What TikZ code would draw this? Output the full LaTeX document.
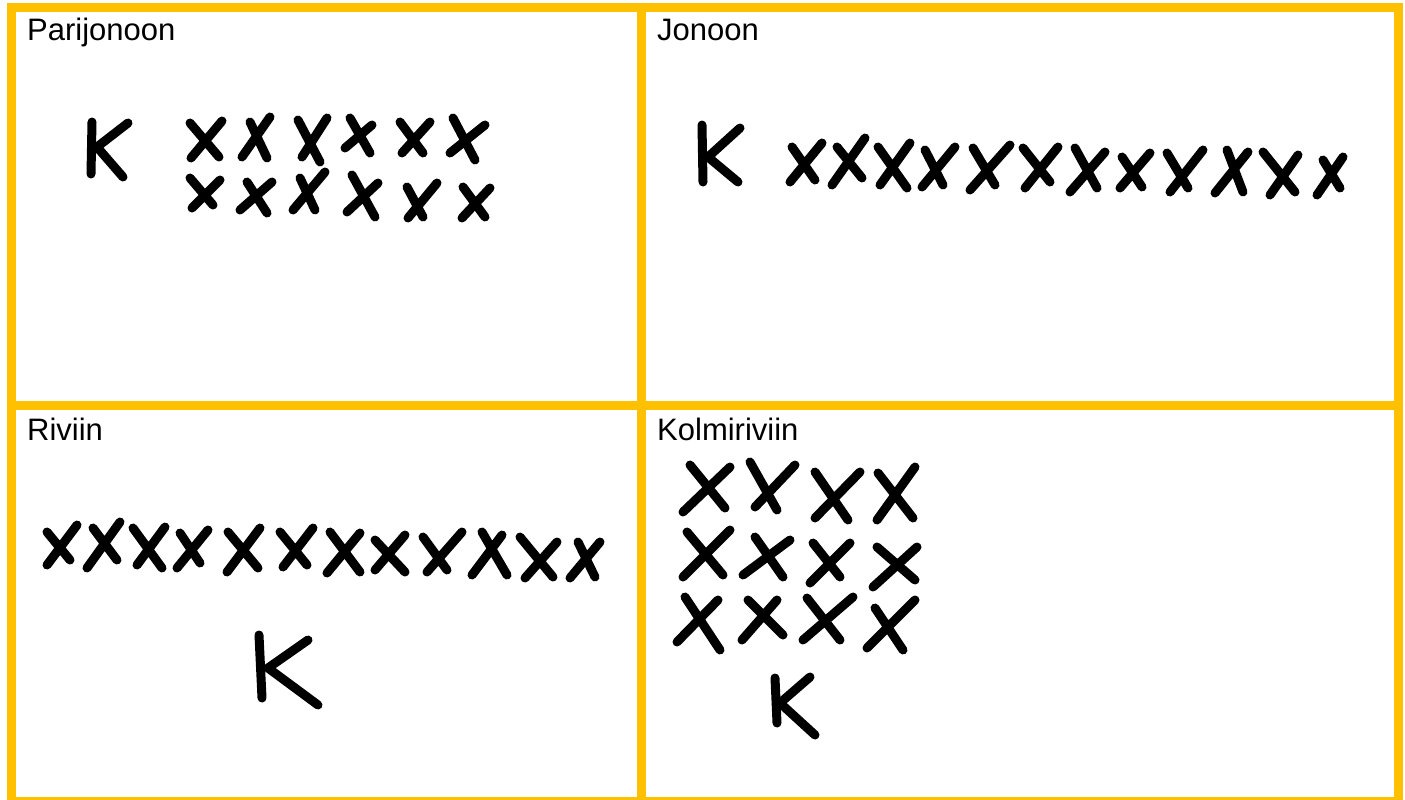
\documentclass[tikz,border=0pt]{standalone}
\usepackage{fontspec}
\setmainfont{Liberation Sans}
\definecolor{amber}{HTML}{FFC000}
\begin{document}
\begin{tikzpicture}[x=1pt,y=-1pt,
  frame/.style={draw=amber,line width=9pt},
  pen/.style={draw=black,line width=9pt,line cap=round,line join=round},
  lbl/.style={anchor=base west,inner sep=0pt,font=\fontsize{31}{36}\selectfont}]
\useasboundingbox (0,0) rectangle (1405,800);
\fill[white] (0,0) rectangle (1405,800);
% frames
\draw[frame] (11.5,7.5) rectangle (1398.5,801.5);
\draw[frame] (641,7.5) -- (641,801.5);
\draw[frame] (11.5,405) -- (1398.5,405);
% labels
\node[lbl] (t1) at (27,41) {Parijonoon};
\node[lbl] (t2) at (657,41) {Jonoon};
\node[lbl] (t3) at (27,440) {Riviin};
\node[lbl] (t4) at (657,440) {Kolmiriviin};
% ---------- Panel 1: Parijonoon ----------
\draw[pen] (92,122) -- (91,174);
\draw[pen] (128,123) -- (97,147) -- (123,177);
% row 1
\draw[pen] (190,123) -- (219,157) (191,158) -- (222,121);
\draw[pen] (250,122) -- (267,158) (242,157) -- (270,117);
\draw[pen] (298,120) -- (320,162) (302,157) -- (327,118);
\draw[pen] (350,118) -- (370,153) (345,148) -- (372,125);
\draw[pen] (400,122) -- (423,153) (402,153) -- (430,122);
\draw[pen] (453,118) -- (475,160) (450,153) -- (485,125);
% row 2
\draw[pen] (190,178) -- (213,205) (192,208) -- (220,180);
\draw[pen] (247,182) -- (267,213) (240,210) -- (272,182);
\draw[pen] (300,178) -- (315,210) (293,210) -- (325,172);
\draw[pen] (352,175) -- (375,217) (347,212) -- (378,183);
\draw[pen] (407,187) -- (423,217) (408,218) -- (437,183);
\draw[pen] (463,187) -- (485,217) (462,218) -- (490,188);
% ---------- Panel 2: Jonoon ----------
\draw[pen] (702,125) -- (703,182);
\draw[pen] (740,128) -- (708,157) -- (738,182);
\draw[pen] (792,147) -- (815,180) (790,182) -- (822,143);
\draw[pen] (837,147) -- (862,178) (832,185) -- (865,138);
\draw[pen] (878,147) -- (907,188) (880,185) -- (910,143);
\draw[pen] (925,150) -- (943,185) (922,187) -- (955,147);
\draw[pen] (973,148) -- (995,185) (970,190) -- (1010,145);
\draw[pen] (1023,148) -- (1050,182) (1025,188) -- (1058,147);
\draw[pen] (1075,148) -- (1097,188) (1070,192) -- (1105,152);
\draw[pen] (1122,157) -- (1142,187) (1120,188) -- (1150,153);
\draw[pen] (1167,153) -- (1188,188) (1170,192) -- (1203,150);
\draw[pen] (1227,150) -- (1243,192) (1215,193) -- (1248,152);
\draw[pen] (1263,152) -- (1295,192) (1270,195) -- (1298,155);
\draw[pen] (1323,160) -- (1340,188) (1317,195) -- (1343,157);
% ---------- Panel 3: Riviin ----------
\draw[pen] (47,532) -- (70,560) (47,565) -- (77,525);
\draw[pen] (93,528) -- (117,560) (87,568) -- (120,522);
\draw[pen] (133,528) -- (162,568) (137,565) -- (165,527);
\draw[pen] (180,533) -- (200,563) (177,568) -- (208,530);
\draw[pen] (228,532) -- (258,568) (227,572) -- (260,528);
\draw[pen] (280,532) -- (307,565) (283,567) -- (313,528);
\draw[pen] (330,532) -- (360,572) (327,573) -- (360,533);
\draw[pen] (375,540) -- (405,572) (375,570) -- (405,535);
\draw[pen] (423,537) -- (447,570) (427,572) -- (462,532);
\draw[pen] (482,532) -- (507,575) (472,575) -- (502,535);
\draw[pen] (520,537) -- (553,577) (525,578) -- (557,542);
\draw[pen] (578,542) -- (595,577) (570,578) -- (600,542);
\draw[pen] (259,635) -- (262,698);
\draw[pen] (308,640) -- (268,668) -- (318,705);
% ---------- Panel 4: Kolmiriviin ----------
\draw[pen] (690,465) -- (725,508) (683,512) -- (730,467);
\draw[pen] (750,462) -- (777,510) (755,507) -- (795,465);
\draw[pen] (815,472) -- (848,520) (815,518) -- (860,472);
\draw[pen] (878,473) -- (913,518) (877,520) -- (915,467);
\draw[pen] (687,532) -- (723,575) (683,577) -- (730,530);
\draw[pen] (755,537) -- (783,577) (743,575) -- (790,540);
\draw[pen] (813,543) -- (840,577) (810,583) -- (850,543);
\draw[pen] (877,547) -- (915,580) (873,587) -- (917,547);
\draw[pen] (685,597) -- (720,650) (677,642) -- (718,600);
\draw[pen] (748,600) -- (783,635) (742,640) -- (777,600);
\draw[pen] (807,598) -- (840,640) (803,640) -- (853,597);
\draw[pen] (875,608) -- (903,650) (867,648) -- (915,600);
\draw[pen] (775,678) -- (777,723);
\draw[pen] (810,677) -- (780,703) -- (815,735);
\end{tikzpicture}
\end{document}
